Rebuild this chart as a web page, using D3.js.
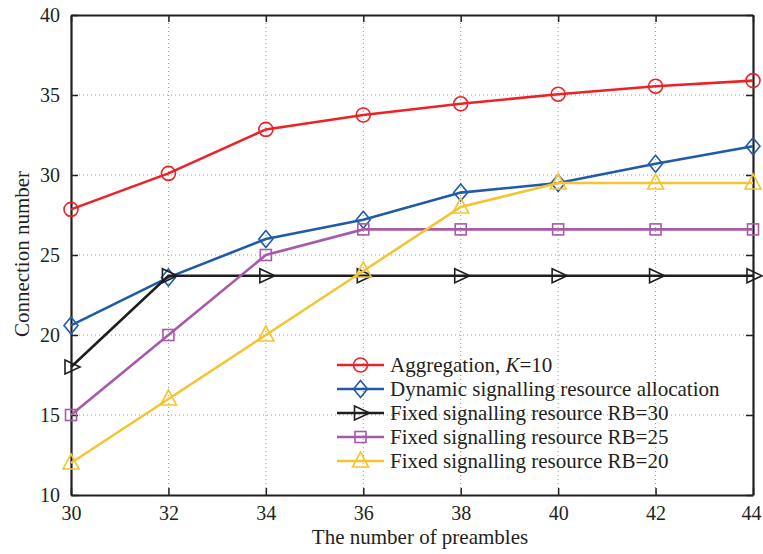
<!DOCTYPE html>
<html>
<head>
<meta charset="utf-8">
<script src="https://cdn.jsdelivr.net/npm/d3@7"></script>
<style>
  body { margin: 0; background: #fff; }
  text { font-family: "Liberation Serif", "DejaVu Serif", serif; fill: #231f20; }
</style>
</head>
<body>
<script>
// data
var preambles = [30, 32, 34, 36, 38, 40, 42, 44];
var aggregation = [27.85, 30.1, 32.85, 33.75, 34.45, 35.05, 35.55, 35.9];
var dynamicAlloc = [20.6, 23.6, 26.0, 27.2, 28.9, 29.5, 30.7, 31.8];
var fixedRB30 = [18.0, 23.7, 23.7, 23.7, 23.7, 23.7, 23.7, 23.7];
var fixedRB25 = [15.0, 20.0, 25.0, 26.6, 26.6, 26.6, 26.6, 26.6];
var fixedRB20 = [12.0, 16.0, 20.0, 24.0, 28.0, 29.5, 29.5, 29.5];
var xTicks = [30, 32, 34, 36, 38, 40, 42, 44];
var yTicks = [10, 15, 20, 25, 30, 35, 40];

var series = [
    {name: "Aggregation", values: aggregation, color: "#ec2227", marker: "circle"},
    {name: "Dynamic signalling resource allocation", values: dynamicAlloc, color: "#1f5ba8", marker: "diamond"},
    {name: "Fixed signalling resource RB=30", values: fixedRB30, color: "#1e1e1e", marker: "triangleRight"},
    {name: "Fixed signalling resource RB=25", values: fixedRB25, color: "#a75aa8", marker: "square"},
    {name: "Fixed signalling resource RB=20", values: fixedRB20, color: "#f4c431", marker: "triangleUp"}
];

var width = 763;
var height = 554;
var margin = {top: 15, right: 10, bottom: 59, left: 71};
var innerWidth = 753 - margin.left;
var innerHeight = height - margin.top - margin.bottom;

const svg = d3.select("body")
.append("svg")
    .attr("width", width)
    .attr("height", height);

const g = svg.append("g")
    .attr("transform", "translate(" + margin.left + ", " + margin.top + ")");

//Scales
var x = d3.scaleLinear().domain([30, 44]).range([0, innerWidth]);
var y = d3.scaleLinear().domain([10, 40]).range([innerHeight, 0]);

//Grid
g.selectAll(".vgrid").data(xTicks.slice(1, -1)).enter()
    .append("line")
    .attr("x1", d => x(d)).attr("x2", d => x(d))
    .attr("y1", 0).attr("y2", innerHeight)
    .attr("stroke", "#9a9a9a").attr("stroke-width", 1)
    .attr("stroke-dasharray", "1,3");

g.selectAll(".hgrid").data(yTicks.slice(1, -1)).enter()
    .append("line")
    .attr("x1", 0).attr("x2", innerWidth)
    .attr("y1", d => y(d)).attr("y2", d => y(d))
    .attr("stroke", "#9a9a9a").attr("stroke-width", 1)
    .attr("stroke-dasharray", "1,3");

//Axes (ticks pointing inward, on all four sides)
var tickLen = 7;
var xAxisCall = d3.axisBottom(x).tickValues(xTicks).tickSizeInner(-tickLen).tickSizeOuter(0);
var yAxisCall = d3.axisLeft(y).tickValues(yTicks).tickSizeInner(-tickLen).tickSizeOuter(0);

var xAxisGroup = g.append("g")
    .attr("transform", "translate(0, " + innerHeight + ")")
    .call(xAxisCall);
var yAxisGroup = g.append("g").call(yAxisCall);

var topAxis = g.append("g")
    .call(d3.axisTop(x).tickValues(xTicks).tickSizeInner(-tickLen).tickSizeOuter(0));
var rightAxis = g.append("g").attr("transform", "translate(" + innerWidth + ", 0)")
    .call(d3.axisRight(y).tickValues(yTicks).tickSizeInner(-tickLen).tickSizeOuter(0));
topAxis.selectAll("text").remove();
rightAxis.selectAll("text").remove();

g.selectAll(".domain").attr("stroke", "#231f20").attr("stroke-width", 2.2);
g.selectAll(".tick line").attr("stroke", "#231f20").attr("stroke-width", 1.5);
xAxisGroup.selectAll("text")
    .style("font-size", "20px")
    .attr("y", 25).attr("dy", 0);
xAxisGroup.selectAll("text").filter(d => d === 44).attr("dx", -2);
yAxisGroup.selectAll("text")
    .style("font-size", "20px")
    .attr("x", -11).attr("dy", "0.33em");
g.selectAll(".tick text").attr("fill", "#231f20").style("font-family", "Liberation Serif, serif");

//Labels
g.append("text")
    .attr("x", innerWidth / 2 + 8)
    .attr("y", innerHeight + 49)
    .attr("text-anchor", "middle")
    .style("font-size", "21px")
    .text("The number of preambles");

g.append("text")
    .attr("transform", "rotate(-90)")
    .attr("x", -(innerHeight / 2) + 1)
    .attr("y", -42)
    .attr("text-anchor", "middle")
    .style("font-size", "21px")
    .text("Connection number");

//Markers
function drawMarker(sel, type, color) {
    var s = 7;
    if (type === "circle") {
        sel.append("circle").attr("r", s).attr("fill", "none");
    } else if (type === "diamond") {
        sel.append("path").attr("d", "M0," + (-s - 1.5) + "L" + s + ",0L0," + (s + 1.5) + "L" + (-s) + ",0Z").attr("fill", "none");
    } else if (type === "triangleRight") {
        sel.append("path").attr("d", "M" + (-s + 1) + "," + (-s) + "L" + (s + 2) + ",0L" + (-s + 1) + "," + s + "Z").attr("fill", "none");
    } else if (type === "square") {
        sel.append("rect").attr("x", -5.5).attr("y", -5.5).attr("width", 11).attr("height", 11).attr("fill", "none");
    } else if (type === "triangleUp") {
        sel.append("path").attr("d", "M0," + (-s - 2) + "L" + (s + 1) + "," + (s - 1) + "L" + (-s - 1) + "," + (s - 1) + "Z").attr("fill", "none");
    }
    sel.selectAll("*").attr("stroke", color).attr("stroke-width", 1.6);
}

var line = d3.line()
    .x((d, i) => x(preambles[i]))
    .y(d => y(d));

series.forEach(function(s) {
    g.append("path")
        .datum(s.values)
        .attr("fill", "none")
        .attr("stroke", s.color)
        .attr("stroke-width", 2.6)
        .attr("d", line);
    g.selectAll(null).data(s.values).enter()
        .append("g")
        .attr("transform", (d, i) => "translate(" + x(preambles[i]) + "," + y(d) + ")")
        .each(function() { drawMarker(d3.select(this), s.marker, s.color); });
});

//Legend
var legend = svg.append("g").attr("transform", "translate(337, 365)");
series.forEach(function(s, i) {
    var row = legend.append("g").attr("transform", "translate(0," + (i * 24) + ")");
    row.append("line")
        .attr("x1", 0).attr("x2", 47)
        .attr("y1", 0).attr("y2", 0)
        .attr("stroke", s.color).attr("stroke-width", 2.6);
    drawMarker(row.append("g").attr("transform", "translate(23.5,0)"), s.marker, s.color);
    var t = row.append("text")
        .attr("x", 53).attr("y", 7)
        .style("font-size", "21px");
    if (i === 0) {
        t.append("tspan").text("Aggregation, ");
        t.append("tspan").style("font-style", "italic").text("K");
        t.append("tspan").text("=10");
    } else {
        t.text(s.name);
    }
});
</script>
</body>
</html>
